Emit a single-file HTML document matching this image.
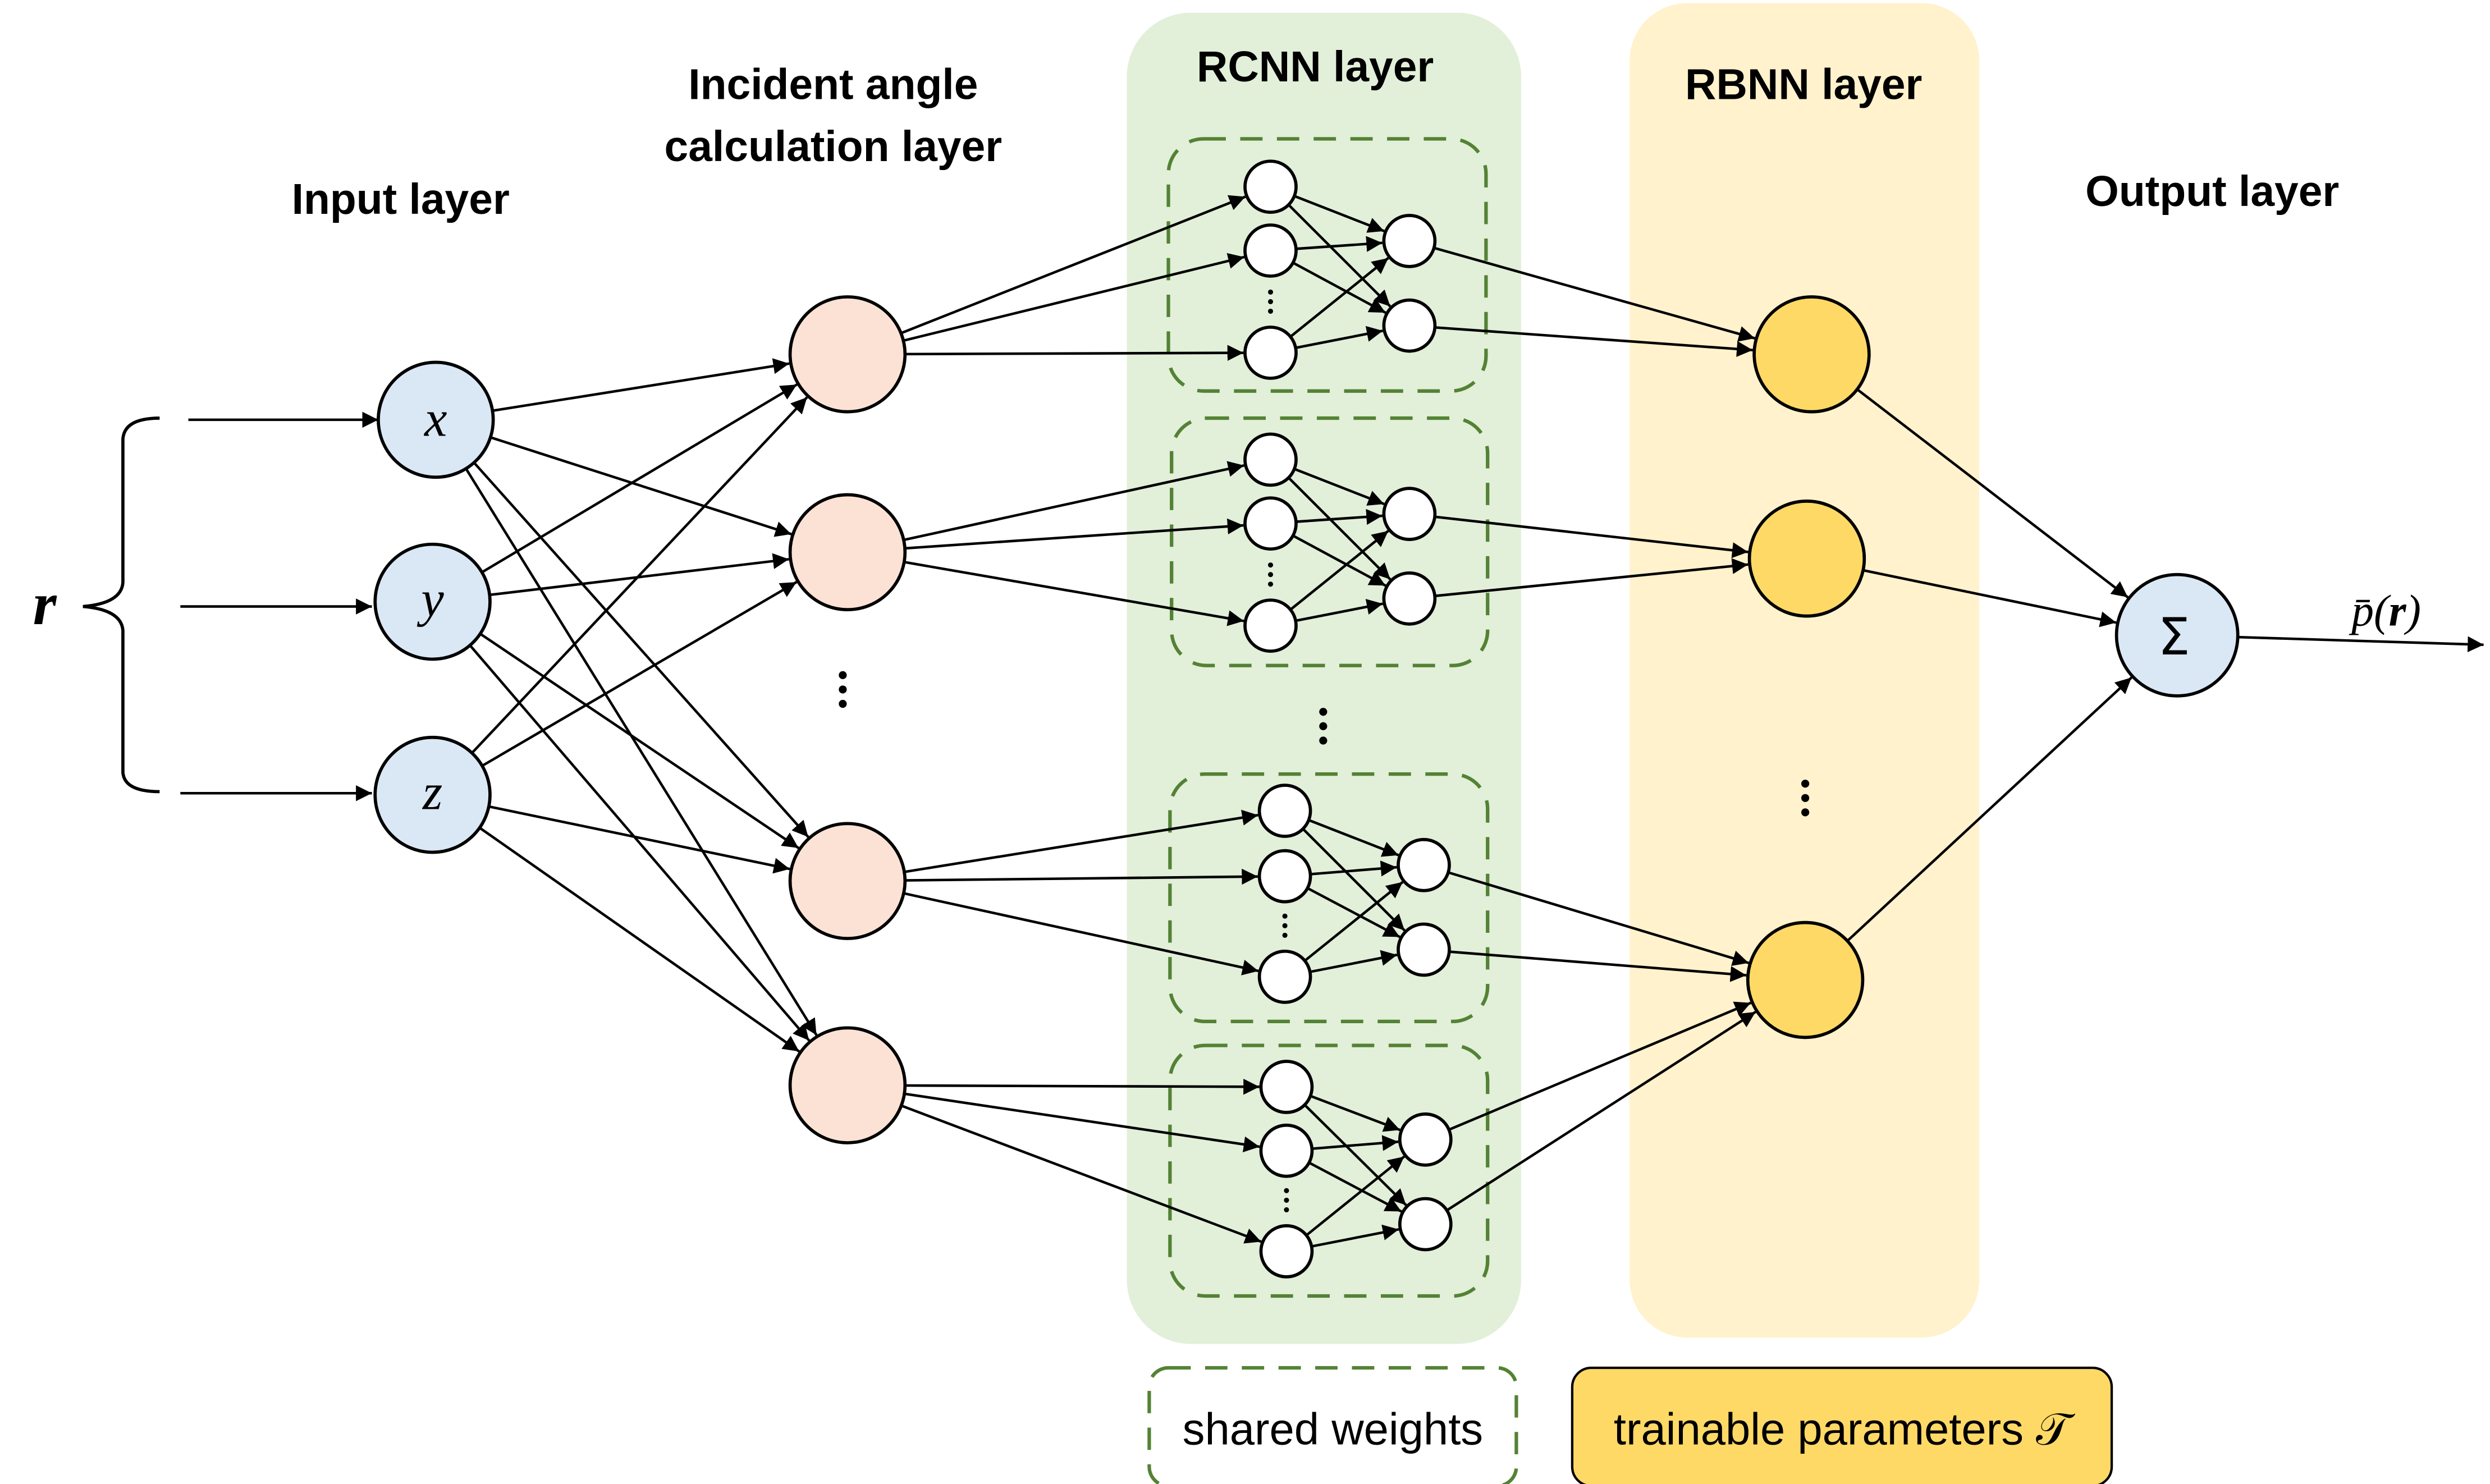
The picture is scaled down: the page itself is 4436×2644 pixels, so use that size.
<!DOCTYPE html>
<html><head><meta charset="utf-8"><style>html,body{margin:0;padding:0;background:#fff}svg{display:block}</style></head>
<body>
<svg id="s" xmlns="http://www.w3.org/2000/svg" width="4436" height="2644" viewBox="0 0 1560 929.8" preserveAspectRatio="none">
<defs><marker id="a" viewBox="0 0 10 10" refX="10" refY="5" markerWidth="6" markerHeight="6" orient="auto" markerUnits="userSpaceOnUse"><path d="M0,0 L10,5 L0,10 z" fill="#000"/></marker>
<marker id="b" viewBox="0 0 10 10" refX="10" refY="5" markerWidth="10" markerHeight="10" orient="auto" markerUnits="userSpaceOnUse"><path d="M0,0 L10,5 L0,10 z" fill="#000"/></marker></defs>
<rect x="706" y="8" width="247" height="834" rx="40" fill="#e2efd9"/>
<rect x="1021" y="2" width="219" height="836" rx="36" fill="#fff2cc"/>
<g fill="none" stroke="#548235" stroke-width="2.2" stroke-dasharray="14,9">
<rect x="732" y="87" width="199" height="158" rx="22"/>
<rect x="734" y="262" width="198" height="155" rx="22"/>
<rect x="733" y="485" width="199" height="155" rx="22"/>
<rect x="733" y="655" width="199" height="157" rx="22"/>
<rect x="720" y="857" width="230" height="74" rx="12"/>
</g>
<rect x="985" y="857" width="338" height="74" rx="12" fill="#ffd966" stroke="#000" stroke-width="1.5"/>
<g id="lines" stroke="#000" stroke-width="1.6" fill="none"></g>
<g id="nodes" stroke="#000" stroke-width="2"></g>
<path d="M100,262 Q78,262 77,275 L77,365 Q76,378 52,380 Q76,382 77,395 L77,484 Q78,496 100,496" fill="none" stroke="#000" stroke-width="2"/>
<g fill="#000">
<circle cx="528" cy="423" r="2.5"/><circle cx="528" cy="432" r="2.5"/><circle cx="528" cy="441" r="2.5"/>
<circle cx="829" cy="446" r="2.5"/><circle cx="829" cy="455" r="2.5"/><circle cx="829" cy="464" r="2.5"/>
<circle cx="1131" cy="491" r="2.5"/><circle cx="1131" cy="500" r="2.5"/><circle cx="1131" cy="509" r="2.5"/>
</g>
<g font-family="Liberation Sans, sans-serif" font-weight="bold" font-size="27" text-anchor="middle">
<text x="251" y="134">Input layer</text>
<text x="522" y="62">Incident angle</text>
<text x="522" y="101">calculation layer</text>
<text x="824" y="51">RCNN layer</text>
<text x="1130" y="62">RBNN layer</text>
<text x="1386" y="129">Output layer</text>
</g>
<g font-family="Liberation Sans, sans-serif" font-size="28" text-anchor="middle">
<text x="835" y="905">shared weights</text>
<text x="1154" y="905">trainable parameters 𝒯</text>
</g>
<g font-family="Liberation Serif, serif" font-style="italic" text-anchor="middle">
<text x="273" y="273" font-size="32">x</text>
<text x="271" y="386" font-size="32">y</text>
<text x="271" y="507" font-size="32">z</text>
<text x="28" y="391" font-size="38" font-weight="bold">r</text>
<text x="1495" y="392" font-size="28">p̄(<tspan font-weight="bold">r</tspan>)</text>
</g>
<text x="1362" y="410" font-family="DejaVu Sans, sans-serif" font-size="32" text-anchor="middle">Σ</text>
<script>
var L=document.getElementById('lines'),N=document.getElementById('nodes'),ns='http://www.w3.org/2000/svg';
function c(x,y,r,f){var e=document.createElementNS(ns,'circle');e.setAttribute('cx',x);e.setAttribute('cy',y);e.setAttribute('r',r);e.setAttribute('fill',f);N.appendChild(e);return [x,y,r];}
function ln(a,b,m){var dx=b[0]-a[0],dy=b[1]-a[1],d=Math.hypot(dx,dy);var e=document.createElementNS(ns,'line');
e.setAttribute('x1',a[0]+dx/d*a[2]);e.setAttribute('y1',a[1]+dy/d*a[2]);e.setAttribute('x2',b[0]-dx/d*(b[2]+1));e.setAttribute('y2',b[1]-dy/d*(b[2]+1));e.setAttribute('marker-end','url(#'+(m||'b')+')');L.appendChild(e);}
var B='#dae8f5',P='#fbe2d5',Y='#ffd966',W='#fff';
var inp=[c(273,263,36,B),c(271,377,36,B),c(271,498,36,B)];
var pk=[c(531,222,36,P),c(531,346,36,P),c(531,552,36,P),c(531,680,36,P)];
var G=[[[796,117],[796,157],[796,221],[883,151],[883,204]],[[796,288],[796,328],[796,392],[883,322],[883,375]],[[805,508],[805,549],[805,612],[892,542],[892,595]],[[806,681],[806,721],[806,784],[893,714],[893,767]]];
var ys=[c(1135,222,36,Y),c(1132,350,36,Y),c(1131,614,36,Y)];
var sm=c(1364,398,38,B);
ln([118,263,0],[238,263,0]);ln([113,380,0],[234,380,0]);ln([113,497,0],[234,497,0]);
inp.forEach(function(a){pk.forEach(function(p){ln(a,p);});});
var yt=[0,1,2,2];
G.forEach(function(g,i){var n=g.map(function(q){return c(q[0],q[1],16,W);});
for(var k=0;k<3;k++){ln(pk[i],n[k]);ln(n[k],n[3]);ln(n[k],n[4]);}
ln(n[3],ys[yt[i]]);ln(n[4],ys[yt[i]]);});
ys.forEach(function(y){ln(y,sm);});
ln(sm,[1557,404,0]);
var cs=[].slice.call(N.childNodes);cs.forEach(function(e){N.appendChild(e);});
</script>
<g fill="#000"><circle cx="796" cy="183" r="1.6"/><circle cx="796" cy="189" r="1.6"/><circle cx="796" cy="195" r="1.6"/>
<circle cx="796" cy="354" r="1.6"/><circle cx="796" cy="360" r="1.6"/><circle cx="796" cy="366" r="1.6"/>
<circle cx="805" cy="574" r="1.6"/><circle cx="805" cy="580" r="1.6"/><circle cx="805" cy="586" r="1.6"/>
<circle cx="806" cy="746" r="1.6"/><circle cx="806" cy="752" r="1.6"/><circle cx="806" cy="758" r="1.6"/></g>
</svg>
</body></html>
